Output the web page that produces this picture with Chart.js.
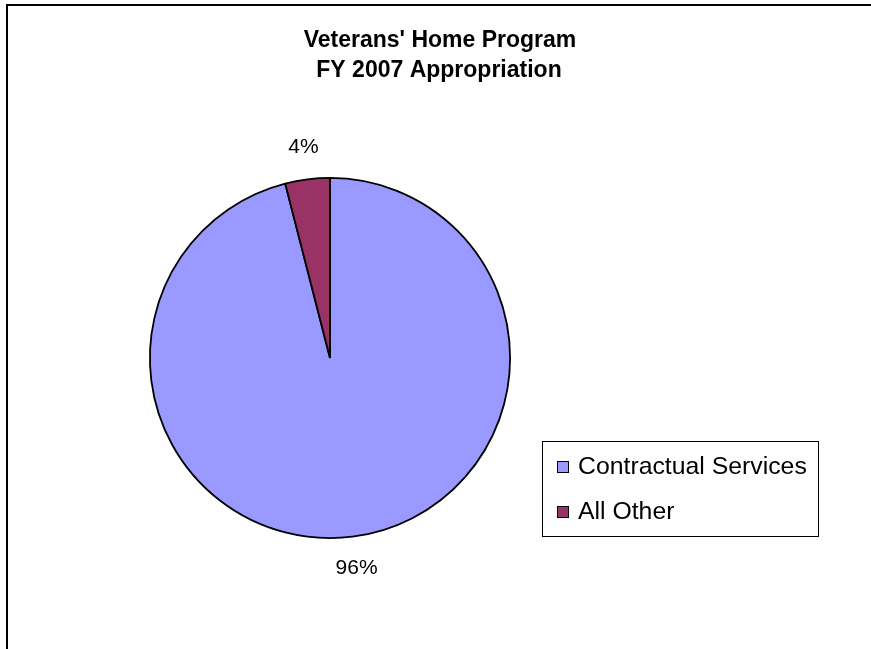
<!DOCTYPE html>
<html>
<head>
<meta charset="utf-8">
<title>Veterans' Home Program</title>
<script src="https://cdn.jsdelivr.net/npm/chart.js@4"></script>
<style>
  html, body { margin: 0; padding: 0; background: #fff; }
  #wrap { width: 871px; height: 649px; }
</style>
</head>
<body>
<div id="wrap"><canvas id="grafico" width="871" height="649"></canvas></div>
<script>
const categorias = ['Contractual Services', 'All Other'];
const valores = [96, 4];
const cores = ['#9999FF', '#993366'];
const titulo = ["Veterans' Home Program", 'FY 2007 Appropriation'];

const fonte = '"Liberation Sans", Arial, sans-serif';

// moldura, titulo, rotulos de percentual e legenda
const desenhoExtra = {
    id: 'desenhoExtra',
    beforeDraw(chart) {
        const ctx = chart.ctx;
        ctx.save();
        ctx.fillStyle = '#fff';
        ctx.fillRect(0, 0, chart.width, chart.height);
        ctx.strokeStyle = '#000';
        ctx.lineWidth = 2;
        ctx.strokeRect(7, 5, 1000, 1000);
        ctx.restore();
    },
    afterDatasetsDraw(chart) {
        const ctx = chart.ctx;
        const meta = chart.getDatasetMeta(0);
        const total = valores.reduce((a, b) => a + b, 0);

        ctx.save();
        ctx.fillStyle = '#000';
        ctx.textAlign = 'center';

        // titulo
        ctx.font = 'bold 23px ' + fonte;
        ctx.textBaseline = 'alphabetic';
        ctx.fillText(titulo[0], 440, 46.5);
        ctx.fillText(titulo[1], 439, 76.5);

        // percentuais fora das fatias
        ctx.font = '21px ' + fonte;
        ctx.textBaseline = 'middle';
        meta.data.forEach((arco, i) => {
            const p = arco.getProps(['x', 'y', 'startAngle', 'endAngle', 'outerRadius'], true);
            const meio = (p.startAngle + p.endAngle) / 2;
            const r = p.outerRadius + 32;
            const txt = Math.round(valores[i] / total * 100) + '%';
            ctx.fillText(txt, p.x + Math.cos(meio) * r, p.y + Math.sin(meio) * r);
        });

        // legenda
        ctx.strokeStyle = '#000';
        ctx.lineWidth = 1;
        ctx.strokeRect(542.5, 441.5, 276, 95);
        ctx.textAlign = 'left';
        ctx.font = '24.8px ' + fonte;
        categorias.forEach((nome, i) => {
            const y = 461 + i * 45;
            ctx.fillStyle = cores[i];
            ctx.fillRect(557, y, 12, 12);
            ctx.strokeRect(557.5, y + 0.5, 11, 11);
            ctx.fillStyle = '#000';
            ctx.fillText(nome, 578, y + 6.5);
        });
        ctx.restore();
    }
};

const dadosPizza = {
    labels: categorias,
    datasets: [
        {
            data: valores,
            backgroundColor: cores,
            borderColor: '#000',
            borderWidth: 1.8
        }
    ]
};

const configPizza = {
    type: 'pie',
    data: dadosPizza,
    options: {
        responsive: false,
        animation: false,
        events: [],
        layout: {
            padding: { left: 149, right: 360, top: 177, bottom: 110 }
        },
        plugins: {
            legend: { display: false },
            title: { display: false },
            tooltip: { enabled: false }
        }
    },
    plugins: [desenhoExtra]
};

const instanciaGrafico = new Chart(document.getElementById('grafico'), configPizza);
</script>
</body>
</html>
